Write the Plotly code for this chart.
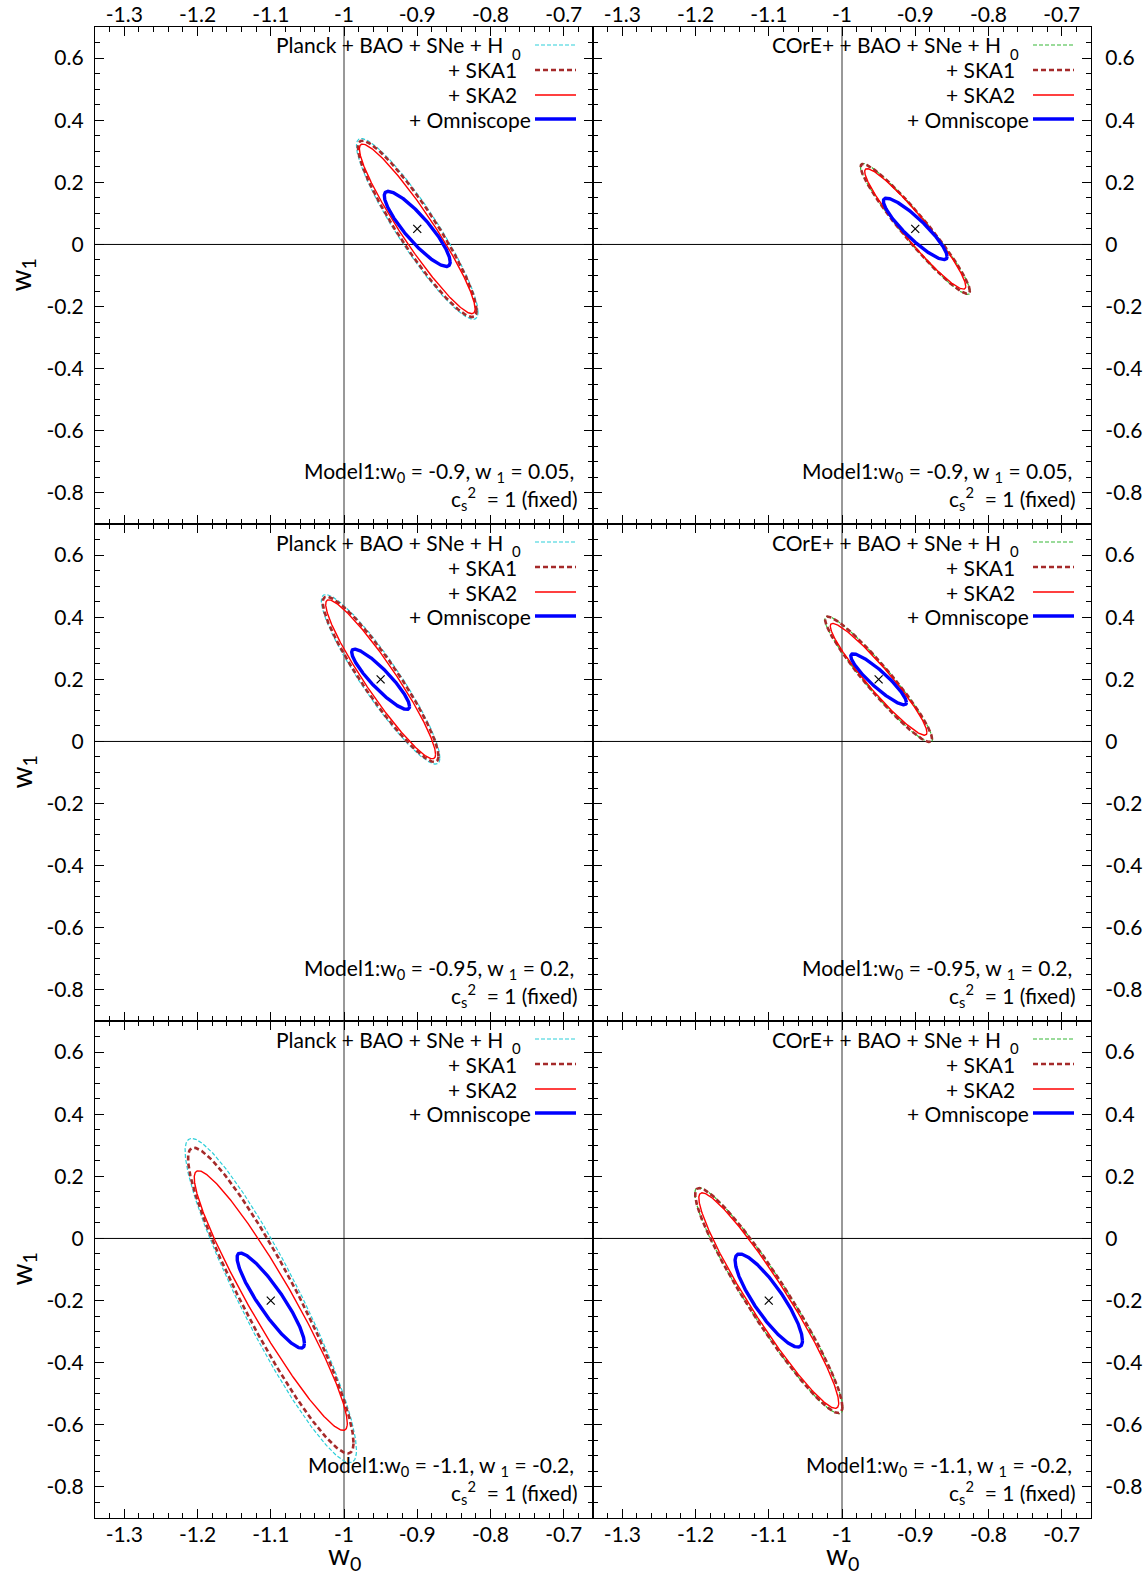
import numpy as np
import plotly.graph_objects as go
from plotly.subplots import make_subplots

W, H = 1144, 1577
FONT = "Lato, 'Liberation Sans', sans-serif"

# Fiducial model of each row
fid_w0 = [-0.9, -0.95, -1.1]
fid_w1 = [0.05, 0.2, -0.2]
fid_w0_label = ["-0.9", "-0.95", "-1.1"]
fid_w1_label = ["0.05", "0.2", "-0.2"]

# Contour half-width in w0, half-height in w1 and w0-w1 correlation.
# Each row: [base, + SKA1, + SKA2, + Omniscope]
planck_dw0 = [[0.083, 0.081, 0.079, 0.045],
              [0.081, 0.079, 0.075, 0.0395],
              [0.117, 0.113, 0.1045, 0.046]]
planck_dw1 = [[0.291, 0.284, 0.273, 0.121],
              [0.273, 0.266, 0.256, 0.097],
              [0.522, 0.492, 0.418, 0.153]]
planck_rho = [[-0.92, -0.925, -0.943, -0.88],
              [-0.925, -0.93, -0.943, -0.90],
              [-0.922, -0.93, -0.945, -0.90]]

core_dw0 = [[0.075, 0.0745, 0.069, 0.0435],
            [0.0735, 0.073, 0.066, 0.038],
            [0.101, 0.1005, 0.0955, 0.046]]
core_dw1 = [[0.211, 0.209, 0.194, 0.099],
            [0.203, 0.202, 0.180, 0.082],
            [0.364, 0.362, 0.347, 0.150]]
core_rho = [[-0.955, -0.955, -0.952, -0.90],
            [-0.952, -0.952, -0.95, -0.91],
            [-0.945, -0.945, -0.95, -0.86]]

base_labels = ["Planck + BAO + SNe + H", "COrE+ + BAO + SNe + H"]
ext_labels = ["+ SKA1", "+ SKA2", "+ Omniscope"]

x_ticks = [-1.3, -1.2, -1.1, -1.0, -0.9, -0.8, -0.7]
x_ticktext = ["-1.3", "-1.2", "-1.1", "-1", "-0.9", "-0.8", "-0.7"]
y_ticks = [-0.8, -0.6, -0.4, -0.2, 0.0, 0.2, 0.4, 0.6]
y_ticktext = ["-0.8", "-0.6", "-0.4", "-0.2", "0", "0.2", "0.4", "0.6"]

X_RANGE = [-1.34, -0.66]
Y_RANGE = [-0.9, 0.7]

# line styles: base (per column), + SKA1, + SKA2, + Omniscope
base_styles = [dict(color="#2ccfd9", width=1.2, dash="4px,2px"),
               dict(color="#36b836", width=1.2, dash="4px,2px")]
ext_styles = [dict(color="#a52a2a", width=2.6, dash="5px,3px"),
              dict(color="#ff0000", width=1.4),
              dict(color="#0000ff", width=3.4)]

# panel geometry in pixels
COL_L = [95, 593]
COL_R = [593, 1091]
ROW_T = [27, 524, 1021]
PANEL_H = 497


def px_x(p):
    return p / W


def px_y(p):
    return 1 - p / H


def ellipse(cx, cy, a, b, rho, n=401):
    t = np.linspace(0, 2 * np.pi, n)
    x = cx + a * np.cos(t)
    y = cy + b * (rho * np.cos(t) + np.sqrt(1 - rho ** 2) * np.sin(t))
    return x, y


fig = make_subplots(rows=3, cols=2, horizontal_spacing=0, vertical_spacing=0)

shapes = []
annotations = []
tick_font = dict(family=FONT, size=21, color="black")
text_font = dict(family=FONT, size=21, color="black")

for r in range(3):
    for c in range(2):
        idx = r * 2 + c + 1
        sfx = "" if idx == 1 else str(idx)
        xref, yref = "x" + sfx, "y" + sfx
        dw0 = (planck_dw0, core_dw0)[c][r]
        dw1 = (planck_dw1, core_dw1)[c][r]
        rho = (planck_rho, core_rho)[c][r]
        styles = [base_styles[c]] + ext_styles
        for k in range(4):
            ex, ey = ellipse(fid_w0[r], fid_w1[r], dw0[k], dw1[k], rho[k])
            fig.add_trace(go.Scatter(x=ex, y=ey, mode="lines", line=styles[k],
                                     showlegend=False, hoverinfo="skip"),
                          row=r + 1, col=c + 1)
        fig.add_trace(go.Scatter(x=[fid_w0[r]], y=[fid_w1[r]], mode="markers",
                                 marker=dict(symbol="x-thin", size=8, color="black",
                                             line=dict(width=1.2, color="black")),
                                 showlegend=False, hoverinfo="skip"),
                      row=r + 1, col=c + 1)

        # reference lines w0 = -1 and w1 = 0
        shapes.append(dict(type="line", xref=xref, yref=yref, x0=-1, x1=-1,
                           y0=Y_RANGE[0], y1=Y_RANGE[1], layer="below",
                           line=dict(color="#333333", width=1)))
        shapes.append(dict(type="line", xref=xref, yref=yref, x0=X_RANGE[0], x1=X_RANGE[1],
                           y0=0, y1=0, layer="below",
                           line=dict(color="black", width=1)))

        L, R = COL_L[c], COL_R[c]
        T = ROW_T[r]
        B = T + PANEL_H

        # axes
        xa = dict(domain=[px_x(L), px_x(R)], range=X_RANGE, tickmode="array",
                  tickvals=x_ticks, ticktext=x_ticktext, ticks="inside", ticklen=9,
                  tickwidth=1, tickcolor="black", showline=True, linewidth=1.3,
                  linecolor="black", mirror="allticks", showgrid=False, zeroline=False,
                  tickfont=tick_font, automargin=False,
                  minor=dict(tickmode="linear", tick0=-1.0, dtick=0.02, ticks="inside",
                             ticklen=5, tickwidth=1, tickcolor="black", showgrid=False))
        if r == 0:
            xa.update(side="top", showticklabels=True, ticklabelstandoff=-5)
        elif r == 2:
            xa.update(side="bottom", showticklabels=True, ticklabelstandoff=-2)
        else:
            xa.update(showticklabels=False)
        ya = dict(domain=[px_y(B), px_y(T)], range=Y_RANGE, tickmode="array",
                  tickvals=y_ticks, ticktext=y_ticktext, ticks="inside", ticklen=9,
                  tickwidth=1, tickcolor="black", showline=True, linewidth=1.3,
                  linecolor="black", mirror="allticks", showgrid=False, zeroline=False,
                  tickfont=tick_font, automargin=False,
                  ticklabelstandoff=6 if c == 0 else 9,
                  side="left" if c == 0 else "right",
                  minor=dict(tickmode="linear", tick0=0.0, dtick=0.05, ticks="inside",
                             ticklen=5, tickwidth=1, tickcolor="black", showgrid=False))
        fig.layout["xaxis" + sfx].update(xa)
        fig.layout["yaxis" + sfx].update(ya)

        # key: labels on the left, line samples on the right
        row_off = [18, 43, 68, 92]
        annotations.append(dict(x=px_x(R - 88), y=px_y(T + row_off[0]), xref="paper",
                                yref="paper", text=base_labels[c], showarrow=False,
                                xanchor="right", yanchor="middle", font=text_font))
        annotations.append(dict(x=px_x(R - 77), y=px_y(T + row_off[0] + 9), xref="paper",
                                yref="paper", text="0", showarrow=False,
                                xanchor="center", yanchor="middle",
                                font=dict(family=FONT, size=15, color="black")))
        text_right = [R - 74, R - 74, R - 60]
        for k in range(3):
            annotations.append(dict(x=px_x(text_right[k]), y=px_y(T + row_off[k + 1]),
                                    xref="paper", yref="paper", text=ext_labels[k],
                                    showarrow=False, xanchor="right", yanchor="middle",
                                    font=text_font))
        for k in range(4):
            shapes.append(dict(type="line", xref="paper", yref="paper",
                               x0=px_x(R - 58), x1=px_x(R - 17),
                               y0=px_y(T + row_off[k]), y1=px_y(T + row_off[k]),
                               line=styles[k]))

        # model description
        annotations.append(dict(x=px_x(R - 17), y=px_y(B - 52), xref="paper", yref="paper",
                                text="Model1:w<sub>0</sub> = %s, w <sub>1</sub> = %s,"
                                     % (fid_w0_label[r], fid_w1_label[r]),
                                showarrow=False, xanchor="right", yanchor="middle",
                                font=text_font))
        annotations.append(dict(x=px_x(R - 13), y=px_y(B - 26), xref="paper", yref="paper",
                                text="c<sub>s</sub><sup>2</sup>  = 1 (fixed)",
                                showarrow=False, xanchor="right", yanchor="middle",
                                font=text_font))

# axis titles
for r in range(3):
    annotations.append(dict(x=px_x(22), y=px_y(ROW_T[r] + PANEL_H / 2), xref="paper",
                            yref="paper", text="w<sub>1</sub>", showarrow=False,
                            textangle=-90, xanchor="center", yanchor="middle",
                            font=dict(family=FONT, size=28, color="black")))
for c in range(2):
    annotations.append(dict(x=px_x((COL_L[c] + COL_R[c]) / 2), y=px_y(1556), xref="paper",
                            yref="paper", text="w<sub>0</sub>", showarrow=False,
                            xanchor="center", yanchor="middle",
                            font=dict(family=FONT, size=28, color="black")))

fig.update_layout(width=W, height=H, margin=dict(l=0, r=0, t=0, b=0, autoexpand=False),
                  paper_bgcolor="white", plot_bgcolor="white",
                  shapes=shapes, annotations=annotations, showlegend=False)

fig.write_html("out.html")
